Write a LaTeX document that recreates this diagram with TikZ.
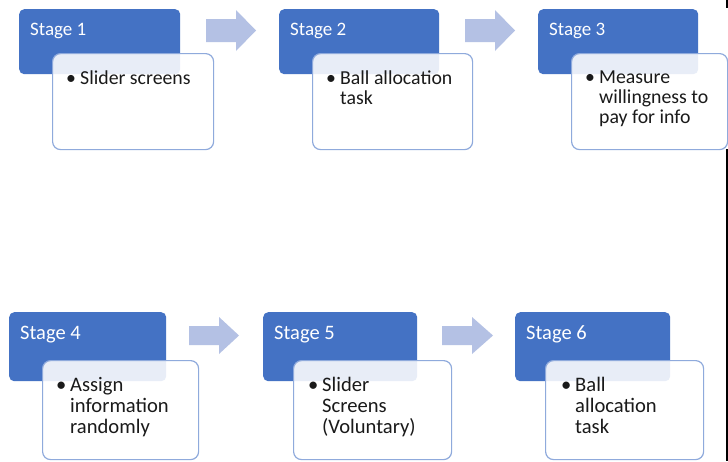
\documentclass[tikz,border=0pt]{standalone}
\usepackage{fontspec}
\setmainfont{Carlito}
\definecolor{stageblue}{HTML}{4472C4}
\definecolor{boxedge}{HTML}{8FAADC}
\definecolor{arrowfill}{HTML}{B4C1E4}
\definecolor{bodyfg}{HTML}{1A1A1A}
\begin{document}
\begin{tikzpicture}[x=1pt,y=-1pt,
  stagebox/.style={fill=stageblue, rounded corners=5pt, inner sep=0pt, anchor=north west, minimum width=#1},
  infobox/.style={draw=boxedge, line width=1.2pt, fill=white, fill opacity=0.88, rounded corners=8pt, inner sep=0pt, anchor=north west, minimum width=#1},
  titletop/.style={text=white, font=\fontsize{19}{20}\selectfont, inner sep=0pt, anchor=base west},
  titlebot/.style={text=white, font=\fontsize{20.5}{21}\selectfont, inner sep=0pt, anchor=base west},
  bodytop/.style={text=bodyfg, font=\fontsize{19.8}{20}\selectfont, inner sep=0pt, anchor=base west},
  bodybot/.style={text=bodyfg, font=\fontsize{20.6}{21}\selectfont, inner sep=0pt, anchor=base west},
  blockarrow/.style={fill=arrowfill}
]
\useasboundingbox (0,0) rectangle (728,461);
\fill[white] (0,0) rectangle (728,461);

% ---------- top row ----------
\node[stagebox=161pt, minimum height=65pt] (b1) at (19,9) {};
\node[titletop] (t1) at (30,35) {Stage 1};
\node[infobox=161pt, minimum height=96pt] (w1) at (52,53) {};
\node[bodytop] (p1) at (66,84) {•};
\node[bodytop] (x1) at (80,84) {\parbox[t]{130pt}{\raggedright Slider screens}};

\fill[blockarrow] (206,19) -- (236,19) -- (236,10) -- (256,30.5) -- (236,51) -- (236,42) -- (206,42) -- cycle;

\node[stagebox=160pt, minimum height=65pt] (b2) at (279,9) {};
\node[titletop] (t2) at (290,35) {Stage 2};
\node[infobox=160pt, minimum height=96pt] (w2) at (312,53) {};
\node[bodytop] (p2) at (326,84) {•};
\node[bodytop] (x2) at (340,84) {\parbox[t]{130pt}{\raggedright Ball allocation\\task}};

\fill[blockarrow] (465,19) -- (495,19) -- (495,10) -- (515,30.5) -- (495,51) -- (495,42) -- (465,42) -- cycle;

\node[stagebox=160pt, minimum height=65pt] (b3) at (538,9) {};
\node[titletop] (t3) at (549,35) {Stage 3};
\node[infobox=156pt, minimum height=96pt] (w3) at (571,53) {};
\node[bodytop] (p3) at (585,83) {•};
\node[bodytop] (x3) at (599,83) {\parbox[t]{125pt}{\raggedright Measure\\willingness to\\pay for info}};

% ---------- bottom row ----------
\node[stagebox=157pt, minimum height=69pt] (b4) at (9,312) {};
\node[titlebot] (t4) at (20,339) {Stage 4};
\node[infobox=156pt, minimum height=99pt] (w4) at (42,360) {};
\node[bodybot] (p4) at (56,391) {•};
\node[bodybot] (x4) at (70,391) {\parbox[t]{125pt}{\raggedright Assign\\information\\randomly}};

\fill[blockarrow] (189,326) -- (219,326) -- (219,317) -- (239,335.5) -- (219,354) -- (219,345) -- (189,345) -- cycle;

\node[stagebox=154pt, minimum height=69pt] (b5) at (263,312) {};
\node[titlebot] (t5) at (274,339) {Stage 5};
\node[infobox=158pt, minimum height=99pt] (w5) at (293,360) {};
\node[bodybot] (p5) at (308,391) {•};
\node[bodybot] (x5) at (322,391) {\parbox[t]{125pt}{\raggedright Slider\\Screens\\(Voluntary)}};

\fill[blockarrow] (442,326) -- (472,326) -- (472,317) -- (493,335.5) -- (472,354) -- (472,345) -- (442,345) -- cycle;

\node[stagebox=155pt, minimum height=69pt] (b6) at (515,312) {};
\node[titlebot] (t6) at (526,339) {Stage 6};
\node[infobox=158pt, minimum height=99pt] (w6) at (545,360) {};
\node[bodybot] (p6) at (561,391) {•};
\node[bodybot] (x6) at (575,391) {\parbox[t]{120pt}{\raggedright Ball\\allocation\\task}};

% right edge border of the screenshot
\fill[black] (726,0) rectangle (728,8);
\fill[black] (726,149) rectangle (728,461);
\end{tikzpicture}
\end{document}
